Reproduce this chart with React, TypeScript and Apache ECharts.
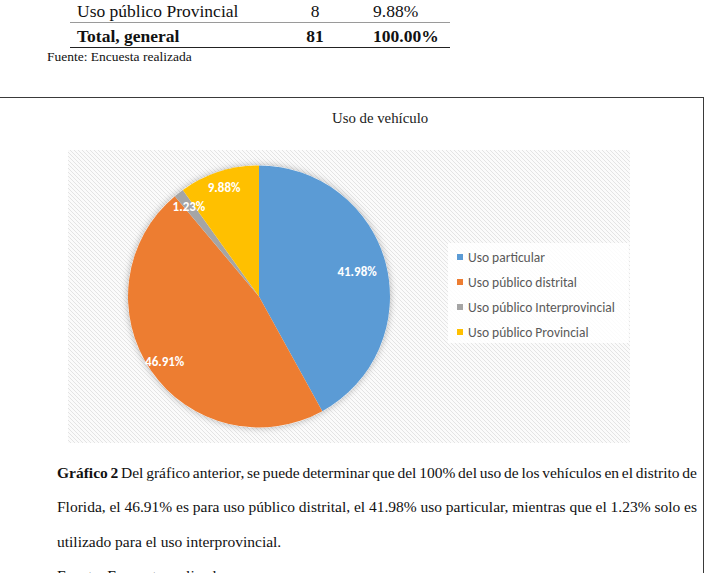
import React, { useEffect, useRef } from "react";
import * as echarts from "echarts";

// ---- data ----
const chartTitle = "Uso de vehículo";
const categories = [
  "Uso particular",
  "Uso público distrital",
  "Uso público Interprovincial",
  "Uso público Provincial",
];
const counts = [34, 38, 1, 8];
const sliceColors = ["#5B9BD5", "#ED7D31", "#A5A5A5", "#FFC000"];
const tableRow = ["Uso público Provincial", "8", "9.88%"];
const tableTotal = ["Total, general", "81", "100.00%"];
const sourceText = "Fuente: Encuesta realizada";

const SERIF = '"Liberation Serif", "Times New Roman", serif';
const SANS = 'Carlito, Lato, "Open Sans", sans-serif';

function makeHatch(): string {
  const c = document.createElement("canvas");
  c.width = 4;
  c.height = 4;
  const ctx = c.getContext("2d")!;
  ctx.fillStyle = "#fbfbfb";
  ctx.fillRect(0, 0, 4, 4);
  ctx.fillStyle = "#e4e4e4";
  for (let i = 0; i < 4; i++) ctx.fillRect(i, i, 1, 1);
  return c.toDataURL();
}

function Chart() {
  const ref = useRef<HTMLDivElement>(null);
  useEffect(() => {
    if (!ref.current) return;
    const chart = echarts.init(ref.current, undefined, { renderer: "svg" });
    const total = counts.reduce((a, b) => a + b, 0);
    const pct = counts.map((v) => ((v / total) * 100).toFixed(2) + "%");
    const center = [259, 296.5];
    const R = 131;
    const labelStyle = {
      position: "inside",
      color: "#ffffff",
      fontWeight: "bold",
      fontSize: 13,
      fontFamily: SANS,
      formatter: (p: any) => pct[p.dataIndex],
    };
    const labelData = (show: (i: number) => boolean) =>
      categories.map((n, i) => ({
        name: n,
        value: counts[i],
        itemStyle: { color: "rgba(0,0,0,0)" },
        label: { show: show(i) },
      }));
    let hatch: any = "#f2f2f2";
    try {
      hatch = { image: makeHatch(), repeat: "repeat" };
    } catch (e) {}
    chart.setOption({
      animation: false,
      title: {
        text: chartTitle,
        left: 332,
        top: 110,
        padding: 0,
        textStyle: {
          fontFamily: SERIF,
          fontSize: 14.8,
          fontWeight: "normal",
          color: "#1a1a1a",
        },
      },
      graphic: [
        {
          type: "rect",
          z: -10,
          shape: { x: 68, y: 150, width: 562, height: 293 },
          style: { fill: hatch },
          silent: true,
        },
      ],
      legend: {
        orient: "vertical",
        left: 448,
        top: 243,
        padding: [7, 14, 4, 9],
        backgroundColor: "rgba(255,255,255,0.85)",
        itemWidth: 6,
        itemHeight: 6,
        itemGap: 11,
        icon: "rect",
        data: categories,
        textStyle: { fontFamily: SANS, fontSize: 13.5, color: "#595959" },
      },
      series: [
        {
          type: "pie",
          center,
          radius: R,
          startAngle: 90,
          clockwise: true,
          z: 3,
          label: { show: false },
          labelLine: { show: false },
          emphasis: { disabled: true },
          silent: true,
          data: categories.map((n, i) => ({
            name: n,
            value: counts[i],
            itemStyle: { color: sliceColors[i] },
          })),
        },
        {
          type: "pie",
          center,
          radius: R,
          z: 1,
          silent: true,
          label: { show: false },
          labelLine: { show: false },
          emphasis: { disabled: true },
          itemStyle: {
            color: "#ffffff",
            shadowBlur: 7,
            shadowColor: "rgba(0,0,0,0.3)",
          },
          data: [{ name: "__shadow", value: total }],
        },
        {
          type: "pie",
          center,
          radius: [R * 0.7, R],
          startAngle: 90,
          z: 4,
          silent: true,
          emphasis: { disabled: true },
          labelLine: { show: false },
          label: labelStyle,
          data: labelData((i) => i !== 0),
        },
        {
          type: "pie",
          center,
          radius: [R * 0.5, R],
          startAngle: 90,
          z: 4,
          silent: true,
          emphasis: { disabled: true },
          labelLine: { show: false },
          label: labelStyle,
          data: labelData((i) => i === 0),
        },
      ],
    });
    return () => chart.dispose();
  }, []);
  return (
    <div
      ref={ref}
      style={{ position: "absolute", left: 0, top: 0, width: 710, height: 573 }}
    />
  );
}

export default function App() {
  const abs = (s: React.CSSProperties): React.CSSProperties => ({
    position: "absolute",
    whiteSpace: "nowrap",
    ...s,
  });
  const capLine: React.CSSProperties = {
    position: "absolute",
    left: 57,
    width: 640,
    textAlign: "justify",
    textAlignLast: "justify" as any,
    whiteSpace: "nowrap",
    fontFamily: SERIF,
    fontSize: 15.5,
    lineHeight: "34.5px",
    color: "#111",
  };
  return (
    <div
      style={{
        position: "fixed",
        left: 0,
        top: 0,
        width: 710,
        height: 573,
        overflow: "hidden",
        background: "#ffffff",
        fontFamily: SERIF,
        color: "#111",
      }}
    >
      {/* top table fragment */}
      <div style={abs({ left: 77, top: 1, fontSize: 17.5, lineHeight: "20px" })}>{tableRow[0]}</div>
      <div style={abs({ left: 295, width: 40, textAlign: "center", top: 1, fontSize: 17.5, lineHeight: "20px" })}>{tableRow[1]}</div>
      <div style={abs({ left: 373, top: 1, fontSize: 17.5, lineHeight: "20px" })}>{tableRow[2]}</div>
      <div style={abs({ left: 70, top: 22, width: 380, height: 1.3, background: "#9a9a9a" })} />
      <div style={abs({ left: 77, top: 26, fontSize: 17.5, lineHeight: "20px", fontWeight: "bold" })}>{tableTotal[0]}</div>
      <div style={abs({ left: 295, width: 40, textAlign: "center", top: 26, fontSize: 17.5, lineHeight: "20px", fontWeight: "bold" })}>{tableTotal[1]}</div>
      <div style={abs({ left: 373, top: 26, fontSize: 17.5, lineHeight: "20px", fontWeight: "bold" })}>{tableTotal[2]}</div>
      <div style={abs({ left: 70, top: 47, width: 380, height: 1.3, background: "#222" })} />
      <div style={abs({ left: 47, top: 49, fontSize: 13.5, lineHeight: "15px" })}>{sourceText}</div>

      {/* box */}
      <div
        style={{
          position: "absolute",
          left: -10,
          top: 97,
          width: 714,
          height: 520,
          border: "1.5px solid #3a3a3a",
          boxSizing: "border-box",
        }}
      />

      <Chart />

      {/* caption */}
      <div style={{ ...capLine, top: 455.5, wordSpacing: "-2.2px" }}>
        <b>Gráfico 2</b> Del gráfico anterior, se puede determinar que del 100% del uso de los vehículos en el distrito de
      </div>
      <div style={{ ...capLine, top: 490, wordSpacing: "-1.5px" }}>
        Florida, el 46.91% es para uso público distrital, el 41.98% uso particular, mientras que el 1.23% solo es
      </div>
      <div style={{ ...capLine, top: 524.5, textAlign: "left", textAlignLast: "left" as any }}>
        utilizado para el uso interprovincial.
      </div>
      <div style={{ ...capLine, top: 559, textAlign: "left", textAlignLast: "left" as any }}>
        {sourceText}
      </div>
    </div>
  );
}
